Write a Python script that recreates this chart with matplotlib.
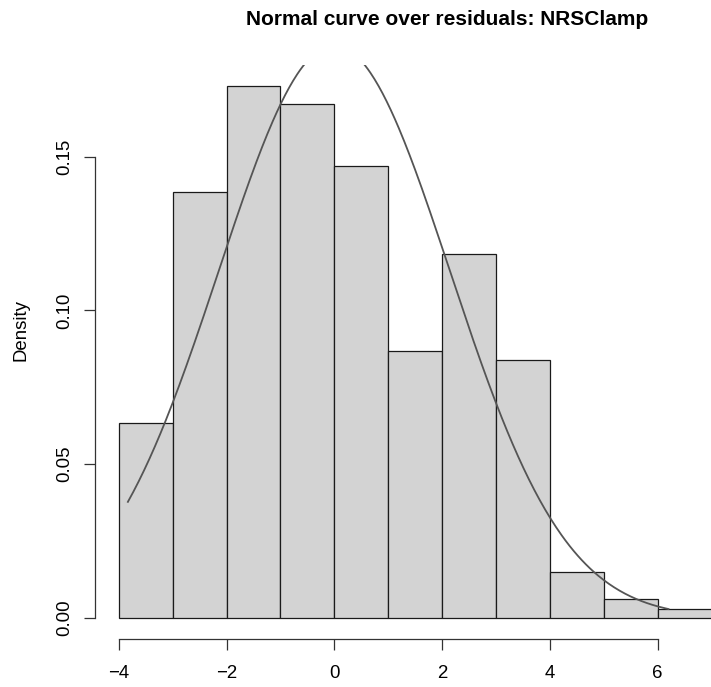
import numpy as np
import matplotlib
matplotlib.use("Agg")
import matplotlib.pyplot as plt

# Histogram data (density scale)
bin_edges = [-4, -3, -2, -1, 0, 1, 2, 3, 4, 5, 6, 7]
densities = [0.0635, 0.1385, 0.1729, 0.1671, 0.1471, 0.0867, 0.1183, 0.0838, 0.0148, 0.0061, 0.0030]

# Normal curve parameters (mean / sd of residuals, data range)
curve_mean = 0.0
curve_sd = 2.143
curve_from = -3.83
curve_to = 6.2

x_ticks = [-4, -2, 0, 2, 4, 6]
y_ticks = [0.00, 0.05, 0.10, 0.15]
y_ticklabels = ["0.00", "0.05", "0.10", "0.15"]
title = "Normal curve over residuals: NRSClamp"
ylabel = "Density"

plt.rcParams['font.family'] = ['Liberation Sans', 'DejaVu Sans']

W, H = 711, 687
dpi = 100
fig = plt.figure(figsize=(W / dpi, H / dpi), dpi=dpi)

left_px, right_px, top_px, bottom_px = 95, 735.3, 65, 639
ax = fig.add_axes([left_px / W, 1 - bottom_px / H, (right_px - left_px) / W, (bottom_px - top_px) / H])

edges = np.array(bin_edges, dtype=float)
ax.bar(edges[:-1], densities, width=np.diff(edges), align='edge',
       color='#D3D3D3', edgecolor='#1a1a1a', linewidth=0.9)

xs = np.linspace(curve_from, curve_to, 400)
ys = np.exp(-0.5 * ((xs - curve_mean) / curve_sd) ** 2) / (curve_sd * np.sqrt(2 * np.pi))
ax.plot(xs, ys, color='#555555', linewidth=1.3)

ax.set_xlim(-4.44, 7.44)
ymax = max(densities)
ax.set_ylim(-0.04 * ymax, 1.04 * ymax)

for s in ['top', 'right']:
    ax.spines[s].set_visible(False)
ax.spines['left'].set_bounds(0, 0.15)
ax.spines['bottom'].set_bounds(-4, 6)
for s in ['left', 'bottom']:
    ax.spines[s].set_color('#333333')
    ax.spines[s].set_linewidth(0.9)

ax.set_xticks(x_ticks)
ax.set_xticklabels([str(t).replace('-', '\u2212') for t in x_ticks])
ax.set_yticks(y_ticks)
ax.set_yticklabels(y_ticklabels, rotation=90, va='center')
ax.tick_params(axis='both', direction='out', length=8, width=0.9, color='#333333',
               labelsize=13.4, labelcolor='black')
ax.tick_params(axis='x', pad=10.5)
ax.tick_params(axis='y', pad=8)

fig.text(447 / W, 1 - 25 / H, title, ha='center', va='baseline',
         fontsize=15, fontweight='bold')
ax.set_ylabel(ylabel, fontsize=13.4)
ax.yaxis.set_label_coords(-(95 - 30) / (right_px - left_px), (639 - 330) / (639 - 65))

fig.savefig("out.png", dpi=dpi)
